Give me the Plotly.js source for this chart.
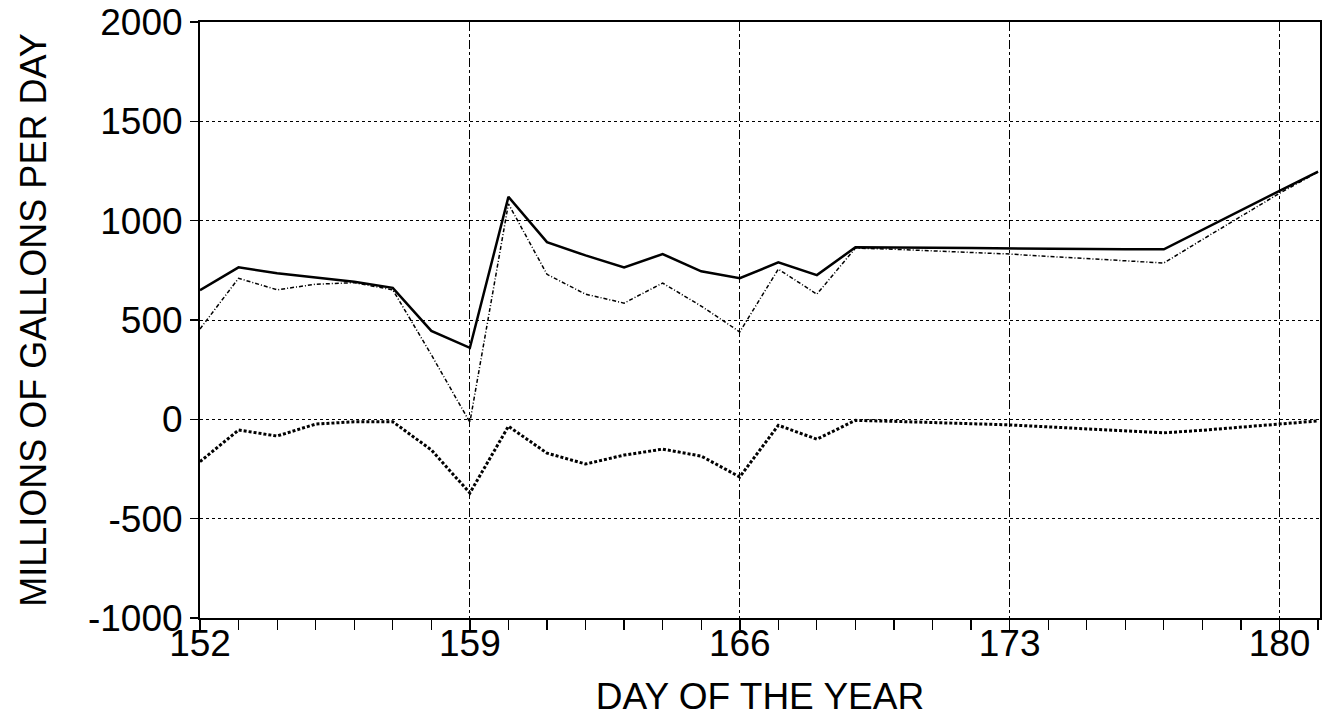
<!DOCTYPE html>
<html>
<head>
<meta charset="utf-8">
<script src="https://cdn.plot.ly/plotly-3.0.1.min.js"></script>
<style>
  html, body { margin: 0; padding: 0; background: #fff; }
  #chart { width: 1335px; height: 717px; }
</style>
</head>
<body>
<div id="chart"></div>
<script>
// Day of the year
const days = [152,153,154,155,156,157,158,159,160,161,162,163,164,165,166,167,168,169,170,171,172,173,174,175,176,177,178,179,180,181];
// Solid line (upper series)
const solidSeries = [650,765,735,712,692,662,445,360,1120,892,825,765,832,745,710,790,726,866,866,864,862,860,858,857,856,856,955,1053,1150,1247];
// Dash-dot line (second series)
const dashDotSeries = [455,710,652,680,688,652,325,-15,1085,730,630,585,686,570,440,756,630,862,856,848,840,832,820,808,798,787,905,1020,1138,1245];
// Heavy dotted line (lower series)
const lowerSeries = [-213,-54,-84,-24,-12,-12,-154,-371,-35,-170,-225,-180,-150,-185,-290,-30,-100,-5,-10,-15,-22,-28,-38,-48,-58,-68,-55,-40,-22,-8];

const xTickVals = [152,159,166,173,180];
const yTickVals = [-1000,-500,0,500,1000,1500,2000];

const FONT = '"Liberation Sans", Arial, Helvetica, sans-serif';

const traces = [
  { x: days, y: solidSeries, type: 'scatter', mode: 'lines',
    line: { color: '#000', width: 2.5 }, hoverinfo: 'skip' },
  { x: days, y: dashDotSeries, type: 'scatter', mode: 'lines',
    line: { color: '#000', width: 1.5, dash: '4px,2px,1px,2px' }, hoverinfo: 'skip' },
  { x: days, y: lowerSeries, type: 'scatter', mode: 'lines',
    line: { color: '#000', width: 3, dash: '3px,2px' }, hoverinfo: 'skip' }
];

const layout = {
  width: 1335, height: 717,
  margin: { l: 200, r: 15, t: 22, b: 99 },
  paper_bgcolor: '#fff', plot_bgcolor: '#fff',
  showlegend: false,
  font: { family: FONT, color: '#000', size: 36 },
  xaxis: {
    range: [152, 181.05],
    tickmode: 'array', tickvals: xTickVals, ticktext: xTickVals.map(String),
    ticks: 'outside', ticklen: 10, tickwidth: 1.5, tickcolor: '#000',
    ticklabelstandoff: -18,
    minor: { dtick: 1, tick0: 152, ticks: 'outside', ticklen: 10, tickwidth: 1.2, tickcolor: '#000', showgrid: false },
    showgrid: true, gridcolor: '#000', gridwidth: 1, griddash: 'dashdot',
    showline: true, linecolor: '#000', linewidth: 2, mirror: true,
    zeroline: false,
    tickfont: { family: FONT, size: 37, color: '#000' },
    title: { text: 'DAY OF THE YEAR', font: { family: FONT, size: 37, color: '#000' }, standoff: 26 },
    automargin: false
  },
  yaxis: {
    range: [-1000, 2000],
    tickmode: 'array', tickvals: yTickVals, ticktext: yTickVals.map(String),
    ticks: 'outside', ticklen: 8, tickwidth: 1.5, tickcolor: '#000',
    showgrid: true, gridcolor: '#000', gridwidth: 1, griddash: 'dot',
    showline: true, linecolor: '#000', linewidth: 2, mirror: true,
    zeroline: false,
    tickfont: { family: FONT, size: 37, color: '#000' },
    title: { text: 'MILLIONS OF GALLONS PER DAY', font: { family: FONT, size: 36, color: '#000' }, standoff: 30 },
    automargin: false
  }
};

Plotly.newPlot('chart', traces, layout, { displayModeBar: false, staticPlot: true });
</script>
</body>
</html>
